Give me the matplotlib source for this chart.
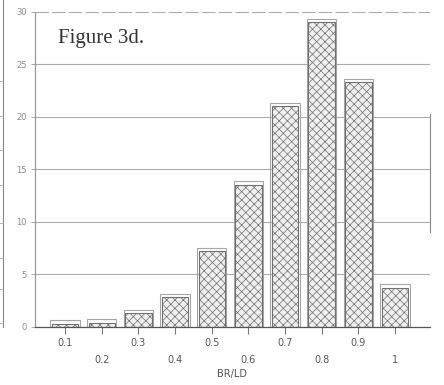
import matplotlib
matplotlib.use("Agg")
import matplotlib.pyplot as plt
from matplotlib.lines import Line2D

# Data
bins = [0.1, 0.2, 0.3, 0.4, 0.5, 0.6, 0.7, 0.8, 0.9, 1.0]
counts = [0.3, 0.4, 1.3, 2.8, 7.2, 13.5, 21.0, 29.0, 23.3, 3.7]
xtick_labels = ["0.1", "0.2", "0.3", "0.4", "0.5", "0.6", "0.7", "0.8", "0.9", "1"]
yticks = [0, 5, 10, 15, 20, 25, 30]

plt.rcParams['hatch.color'] = '#cdcdcd'
plt.rcParams['hatch.linewidth'] = 0.5

fig = plt.figure(figsize=(4.44, 3.85), dpi=100)
ax = fig.add_axes([0.079, 0.151, 0.889, 0.818])

# gridlines
for y in yticks[1:]:
    ax.axhline(y, color='#ababab', lw=0.8, ls=(0, (12, 3)) if y == 30 else '-', zorder=0)

width = 0.08
# shadow outline
ax.bar(bins, [c + 0.35 for c in counts], width=width, align='center',
       facecolor='none', edgecolor='#a5a5a5', lw=0.8, zorder=1)
ax.bar(bins, counts, width=width * 0.9, align='center',
       facecolor='#efefef', edgecolor='#707070', lw=0.8, hatch='xxxx', zorder=2)

ax.set_xlim(0.018, 1.095)
ax.set_ylim(0, 30)

ax.set_xticks(bins)
ax.set_xticklabels([l if i % 2 == 0 else "\n" + l for i, l in enumerate(xtick_labels)],
                   fontsize=7, color='#555555', linespacing=1.9)
ax.set_yticks(yticks)
ax.set_yticklabels([str(v) for v in yticks], fontsize=6, color='#888888')
ax.tick_params(axis='x', length=5, width=0.8, color='#777777', pad=3)
ax.tick_params(axis='y', length=3, width=0.6, color='#999999', pad=3)

ax.set_xlabel("BR/LD", fontsize=7, color='#555555', labelpad=3)

for s in ['top', 'right']:
    ax.spines[s].set_visible(False)
ax.spines['left'].set_color('#999999')
ax.spines['left'].set_linewidth(0.9)
ax.spines['bottom'].set_color('#555555')
ax.spines['bottom'].set_linewidth(0.9)

ax.text(0.058, 0.945, "Figure 3d.", transform=ax.transAxes, fontsize=15,
        family='Liberation Serif', color='#333333', va='top', ha='left')

# partial right border line
ax.plot([1.0, 1.0], [9.0, 20.3], transform=ax.get_yaxis_transform(), color='#888888', lw=0.8, clip_on=False)

# scan artifact on the left edge
fig.add_artist(Line2D([0.007, 0.007], [0.15, 1.0], color='#888888', lw=0.8))
for yy in [0.79, 0.70, 0.61, 0.52, 0.42, 0.33, 0.25, 0.16]:
    fig.add_artist(Line2D([0.0, 0.007], [yy, yy], color='#aaaaaa', lw=0.6))

fig.savefig("out.png", dpi=100, facecolor='white')
